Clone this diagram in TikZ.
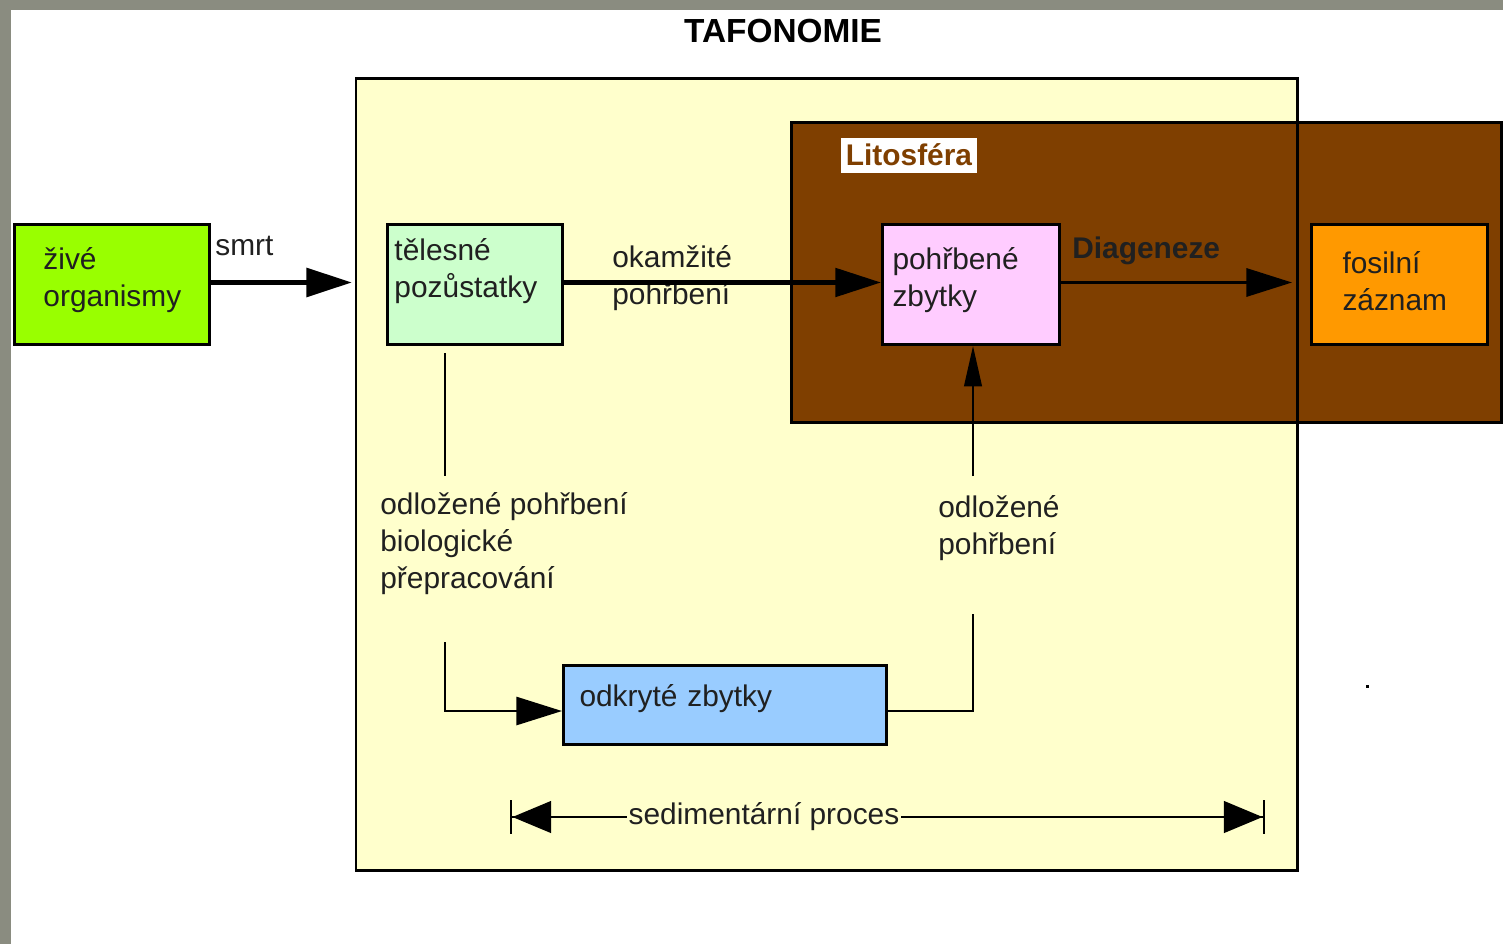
\documentclass[tikz,border=0pt]{standalone}
\usepackage{fontspec}
\setmainfont{Liberation Sans}
\usepackage{tikz}
\usepackage{xcolor}
\usetikzlibrary{
    positioning,
    calc,
    arrows.meta
}
\definecolor{SedaOkraj}{HTML}{8A8C80}
\definecolor{ZlutaTafo}{HTML}{FFFFCC}
\definecolor{HnedaLito}{HTML}{7F3F00}
\definecolor{ZelenaZive}{HTML}{99FF00}
\definecolor{ZelenaTelo}{HTML}{CCFFCC}
\definecolor{RuzovaPohr}{HTML}{FFCCFF}
\definecolor{OranzFosil}{HTML}{FF9900}
\definecolor{ModraOdkr}{HTML}{99CCFF}
\definecolor{Inkoust}{HTML}{202020}
\newcommand{\popis}{\fontsize{17}{21}\selectfont}
\tikzset{
    krabice/.style={
        draw=black,
        line width=1.7pt,
        rectangle,
        anchor=north west,
        inner ysep=0pt,
        align=left,
        text=Inkoust,
        font=\popis
    },
    popisek/.style={
        inner sep=0pt,
        align=left,
        text=Inkoust,
        font=\popis
    },
    spoj/.style={
        -{Triangle[length=26pt,width=16pt]}
    },
    tenka/.style={
        line width=1.4pt
    }
}

\begin{document}
\begin{tikzpicture}[x=0.02cm, y=-0.02cm]
    \useasboundingbox (0,0) rectangle (1503,944);
    \fill[white] (0,0) rectangle (1503,944);
    \fill[SedaOkraj] (0,0) rectangle (1503,10);
    \fill[SedaOkraj] (0,0) rectangle (11,944);

    \node[font=\bfseries\fontsize{19}{22}\selectfont] (nadpis) at (783,31) {TAFONOMIE};

    % ramce
    \node[
        fill=ZlutaTafo,
        anchor=north west,
        inner sep=0pt,
        minimum width=18.82cm,
        minimum height=15.84cm
    ] (tafo) at (356,78) {};
    \node[
        fill=HnedaLito,
        draw=black,
        line width=1.7pt,
        anchor=north west,
        inner sep=0pt,
        minimum width=14.2cm,
        minimum height=6cm
    ] (lito) at (790,121) {};
    \draw[line width=1.7pt] (tafo.north west) rectangle (tafo.south east);

    \node[
        fill=white,
        text=HnedaLito,
        font=\bfseries\popis,
        inner sep=0pt,
        minimum width=2.72cm,
        minimum height=0.7cm
    ] (litlab) at (909,155) {Litosféra};

    % krabice
    \node[krabice, fill=ZelenaZive, inner xsep=0.58cm, text width=2.74cm,
        text height=0.9cm, text depth=1.5cm] (zive) at (13,223) {živé\\organismy};
    \node[krabice, fill=ZelenaTelo, inner xsep=0.14cm, text width=3.22cm,
        text height=0.72cm, text depth=1.68cm] (tel) at (386,223) {tělesné\\pozůstatky};
    \node[krabice, fill=RuzovaPohr, inner xsep=0.2cm, text width=3.14cm,
        text height=0.9cm, text depth=1.5cm] (pohr) at (881,223) {pohřbené\\zbytky};
    \node[krabice, fill=OranzFosil, inner xsep=0.62cm, text width=2.28cm,
        text height=0.98cm, text depth=1.42cm] (fos) at (1310,223) {fosilní\\záznam};
    \node[krabice, fill=ModraOdkr, inner xsep=0.32cm, text width=5.82cm,
        text height=0.82cm, text depth=0.76cm] (odk) at (562,664) {odkryté zbytky};

    % popisky
    \node[popisek, anchor=base west] (smrt) at (215,255) {smrt};
    \node[popisek, anchor=base west] (okam) at (612,304) {okamžité\\pohřbení};
    \node[popisek, font=\bfseries\popis, anchor=base west] (diag) at (1072,258) {Diageneze};
    \node[popisek, anchor=base west] (odlA) at (380,588) {odložené pohřbení\\biologické\\přepracování};
    \node[popisek, anchor=base west] (odlB) at (938,554) {odložené\\pohřbení};
    \node[popisek, fill=ZlutaTafo, inner xsep=1pt] (sedi) at (764,817) {sedimentární proces};

    % spoje
    \draw[spoj, line width=3.4pt, shorten >=0.08cm] ([yshift=0.04cm]zive.east) -- ([yshift=0.04cm]zive.east -| tafo.west);
    \draw[spoj, line width=2.8pt] ([yshift=0.04cm]tel.east) -- ([yshift=0.04cm]pohr.west);
    \draw[spoj, line width=1.7pt, shorten >=0.36cm] ([yshift=0.04cm]pohr.east) -- ([yshift=0.04cm]fos.west);

    \coordinate (a1) at (445,353);
    \coordinate (a2) at (445,476);
    \coordinate (a3) at (445,642);
    \coordinate (a4) at (445,711);
    \coordinate (b1) at (973,614);
    \coordinate (b2) at (973,711);
    \coordinate (b3) at (973,476);
    \coordinate (s1) at (510,817);
    \coordinate (s2) at (1265,817);

    \draw[tenka] (a1) -- (a2);
    \draw[tenka, spoj] (a3) -- (a4) -- (odk.west |- a4);
    \draw[tenka] (odk.east |- b2) -- (b2) -- (b1);
    \draw[tenka, -{Triangle[length=23pt,width=10pt]}] (b3) -- (pohr.south -| b3);
    \draw[tenka, -{Triangle[length=22pt,width=18pt] Bar[width=19pt]}] (sedi.west) -- (s1);
    \draw[tenka, -{Triangle[length=22pt,width=18pt] Bar[width=19pt]}] (sedi.east) -- (s2);

    \fill[black] (1366,685) rectangle (1369,688);
\end{tikzpicture}
\end{document}
